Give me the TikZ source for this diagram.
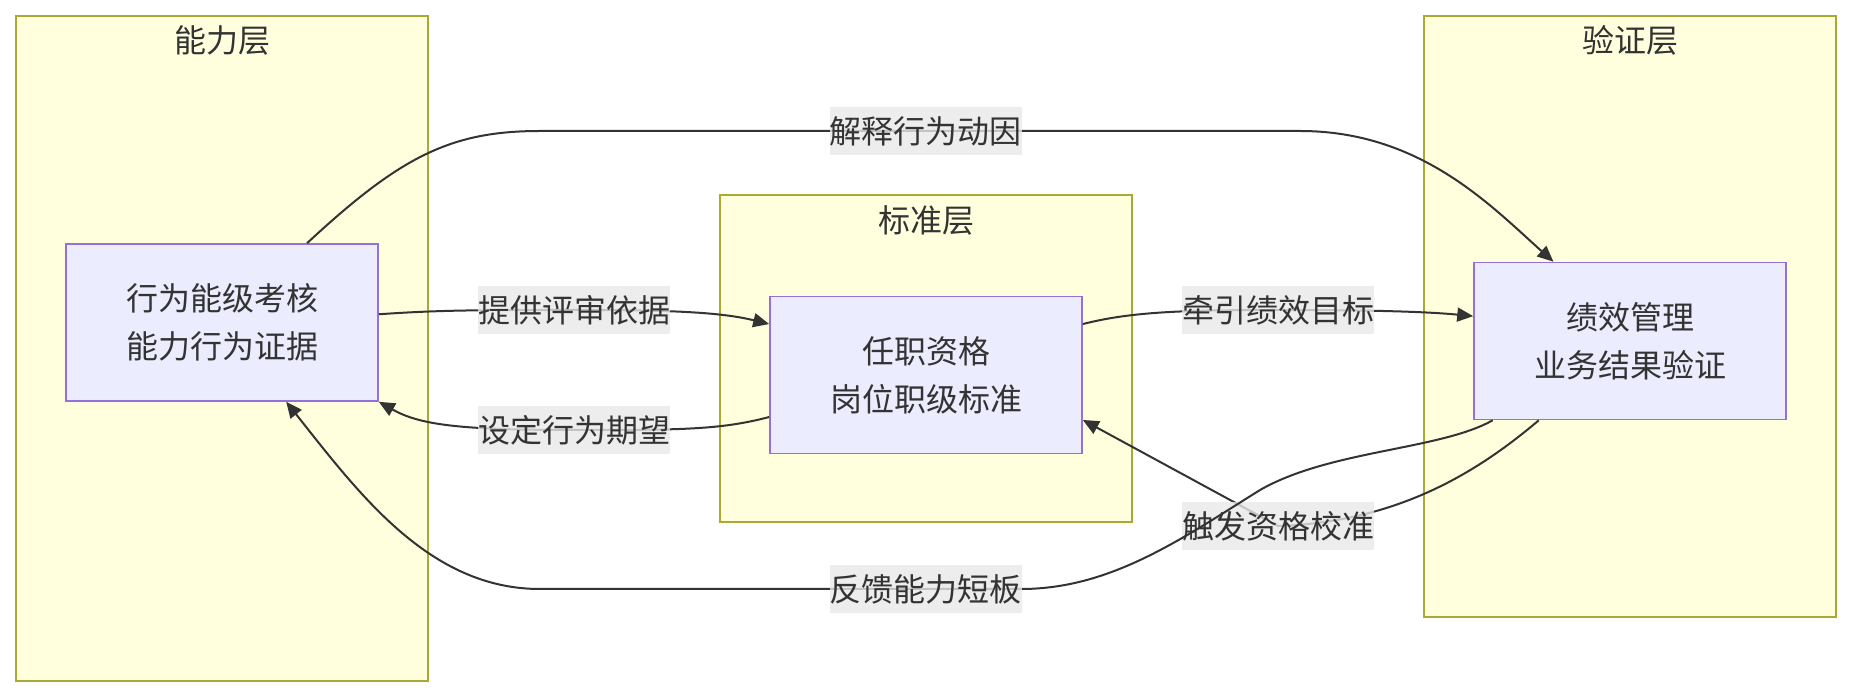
\documentclass[tikz,border=0pt]{standalone}
\usepackage{fontspec}
\setmainfont{Noto Sans CJK SC}
\usetikzlibrary{arrows.meta}
\definecolor{layerfill}{HTML}{FFFFDE}
\definecolor{layerline}{HTML}{AAAA33}
\definecolor{boxfill}{HTML}{ECECFF}
\definecolor{boxline}{HTML}{9370DB}
\definecolor{ink}{HTML}{333333}
\definecolor{lblfill}{HTML}{E8E8E8}
\begin{document}
\begin{tikzpicture}[x=0.5pt, y=-0.5pt,
        font=\fontsize{16pt}{24pt}\selectfont, text=ink,
        layer/.style={draw=layerline, fill=layerfill, line width=1pt, inner sep=0pt, minimum width=206pt},
        box/.style={draw=boxline, fill=boxfill, line width=0.8pt, inner sep=0pt, minimum width=156pt, minimum height=78.5pt, align=center},
        lbl/.style={fill=lblfill, fill opacity=0.8, text opacity=1, inner sep=0pt, minimum height=24pt},
        flow/.style={draw=ink, line width=1pt, -{Triangle[length=8pt,width=7pt]}}]
        \useasboundingbox (0,0) rectangle (1852,694);
        % layers
        \node[layer, minimum height=332.5pt] (capL) at (222,348.5) {};
        \node (capT) at (222,40) {能力层};
        \node[layer, minimum height=163.5pt] (stdL) at (926,358.5) {};
        \node (stdT) at (926,220) {标准层};
        \node[layer, minimum height=300.5pt] (verL) at (1630,316.5) {};
        \node (verT) at (1630,40) {验证层};
        % boxes
        \node[box] (act) at (222,322.5) {行为能级考核\\能力行为证据};
        \node[box] (std) at (926,375) {任职资格\\岗位职级标准};
        \node[box] (perf) at (1630,341) {绩效管理\\业务结果验证};
        % edges
        \draw[flow] (act.43) .. controls (400,157) and (450,131) .. (540,131) -- (830,131)
                -- node[lbl, midway] {解释行为动因} (1021,131) -- (1300,131)
                .. controls (1420,131) and (1490,205) .. (perf.134);
        \draw[flow] (act.3) .. controls (440,310) and (480,310) .. (574,310) node[lbl] {提供评审依据}
                .. controls (670,310) and (720,312) .. (std.162);
        \draw[flow] (std.195) .. controls (720,430) and (680,430) .. (574,430) node[lbl] {设定行为期望}
                .. controls (460,430) and (420,425) .. (act.south east);
        \draw[flow] (std.18) .. controls (1130,312) and (1180,310) .. (1278,310) node[lbl] {牵引绩效目标}
                .. controls (1380,310) and (1430,312) .. (perf.171);
        \draw[flow] (perf.221) .. controls (1480,470) and (1400,522) .. (1278,526) node[lbl] {触发资格校准}
                -- (std.-16);
        \draw[flow] (perf.210) .. controls (1440,450) and (1330,450) .. (1260,490)
                .. controls (1180,540) and (1110,589) .. (1021,589)
                -- node[lbl, midway] {反馈能力短板} (830,589) -- (540,589)
                .. controls (430,589) and (360,495) .. (act.-51);
\end{tikzpicture}
\end{document}
